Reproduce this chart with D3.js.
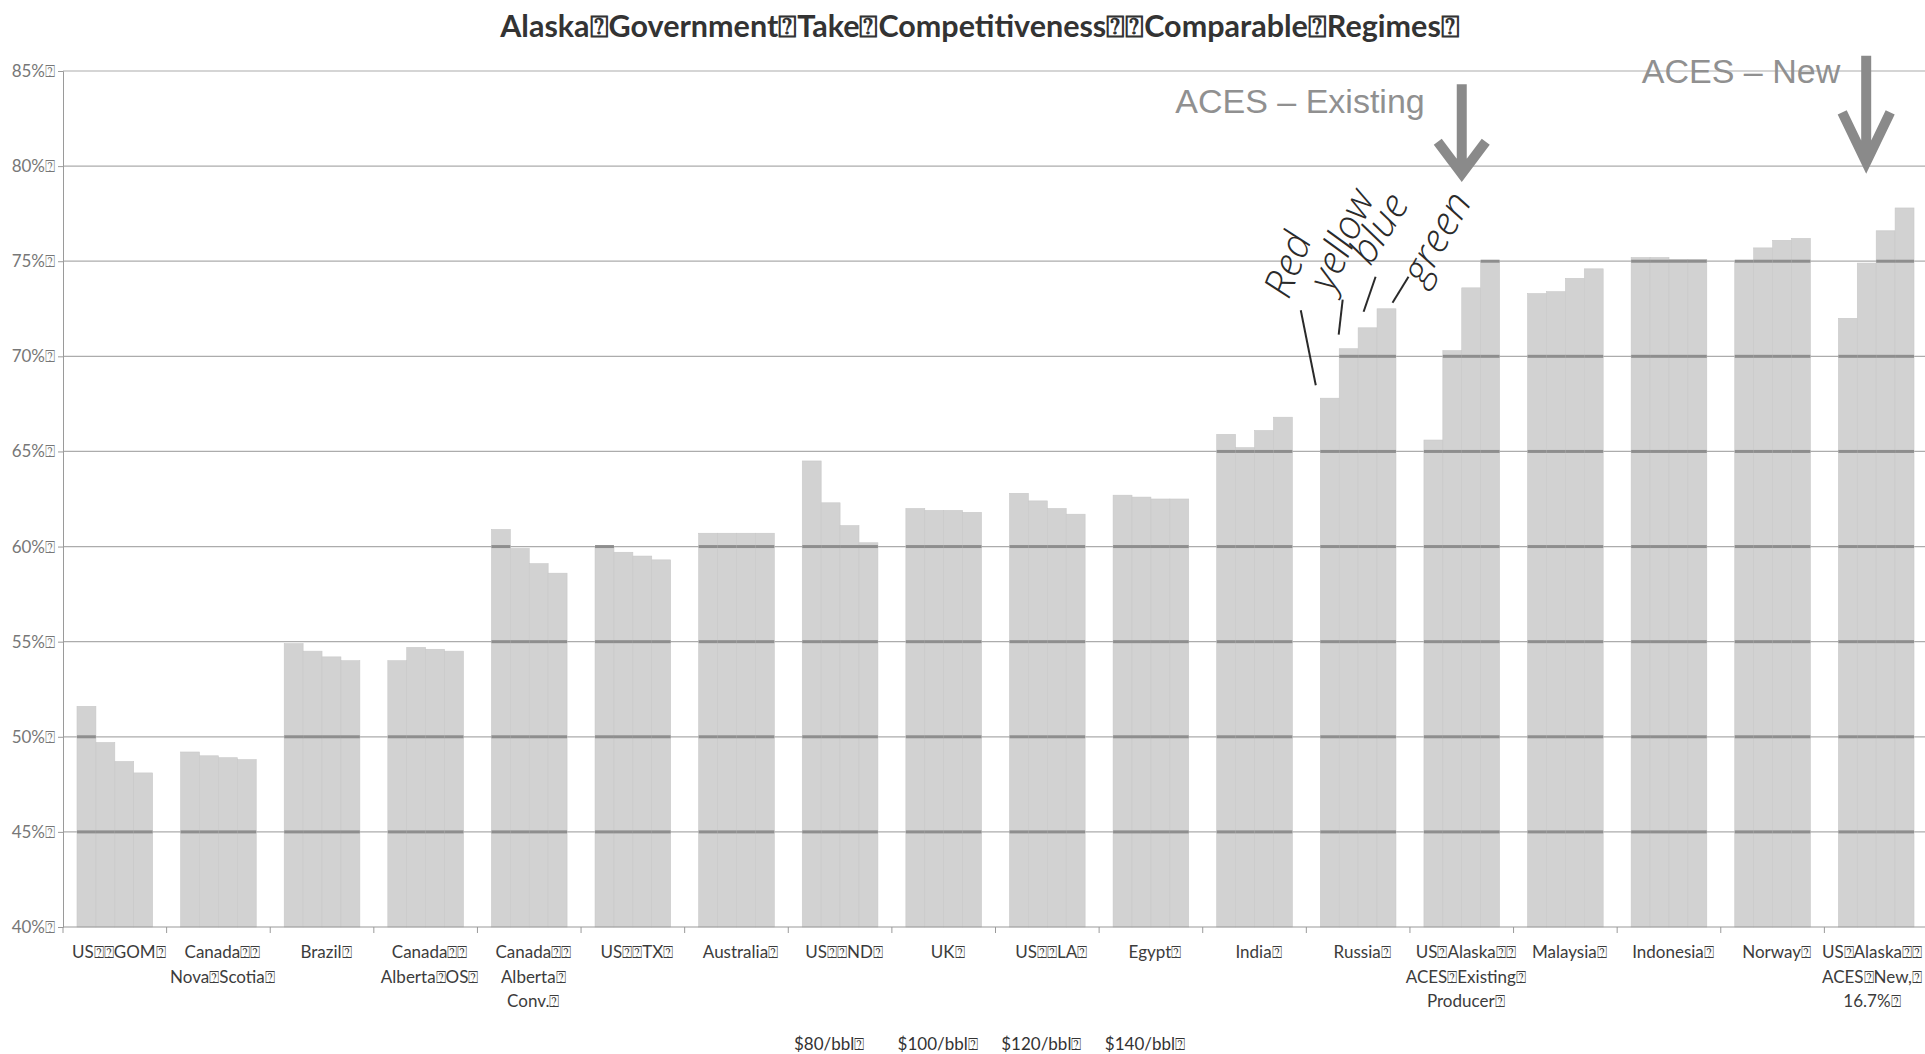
<!DOCTYPE html>
<html>
<head>
<meta charset="utf-8">
<script src="https://cdn.jsdelivr.net/npm/d3@7"></script>
<style>
	body { margin: 0; background: #fff; }
	svg text { font-family: Lato, "Open Sans", sans-serif; }
</style>
</head>
<body>
<svg id="chart" width="1925" height="1054"></svg>
<script>
// missing-glyph box, as it shows in the scanned chart
const Q = '\u2370';

const title = `Alaska${Q}Government${Q}Take${Q}Competitiveness${Q}${Q}Comparable${Q}Regimes${Q}`;

const categories = [
	[`US${Q}${Q}GOM${Q}`],
	[`Canada${Q}${Q}`, `Nova${Q}Scotia${Q}`],
	[`Brazil${Q}`],
	[`Canada${Q}${Q}`, `Alberta${Q}OS${Q}`],
	[`Canada${Q}${Q}`, `Alberta${Q}`, `Conv.${Q}`],
	[`US${Q}${Q}TX${Q}`],
	[`Australia${Q}`],
	[`US${Q}${Q}ND${Q}`],
	[`UK${Q}`],
	[`US${Q}${Q}LA${Q}`],
	[`Egypt${Q}`],
	[`India${Q}`],
	[`Russia${Q}`],
	[`US${Q}Alaska${Q}${Q}`, `ACES${Q}Existing${Q}`, `Producer${Q}`],
	[`Malaysia${Q}`],
	[`Indonesia${Q}`],
	[`Norway${Q}`],
	[`US${Q}Alaska${Q}${Q}`, `ACES${Q}New,${Q}`, `16.7%${Q}`]
];

const series = [`$80/bbl${Q}`, `$100/bbl${Q}`, `$120/bbl${Q}`, `$140/bbl${Q}`];

const take80  = [51.6, 49.2, 54.9, 54.0, 60.9, 60.0, 60.7, 64.5, 62.0, 62.8, 62.7, 65.9, 67.8, 65.6, 73.3, 75.2, 75.0, 72.0];
const take100 = [49.7, 49.0, 54.5, 54.7, 59.9, 59.7, 60.7, 62.3, 61.9, 62.4, 62.6, 65.2, 70.4, 70.3, 73.4, 75.2, 75.7, 74.9];
const take120 = [48.7, 48.9, 54.2, 54.6, 59.1, 59.5, 60.7, 61.1, 61.9, 62.0, 62.5, 66.1, 71.5, 73.6, 74.1, 75.1, 76.1, 76.6];
const take140 = [48.1, 48.8, 54.0, 54.5, 58.6, 59.3, 60.7, 60.2, 61.8, 61.7, 62.5, 66.8, 72.5, 75.0, 74.6, 75.1, 76.2, 77.8];

const yTicks = [40, 45, 50, 55, 60, 65, 70, 75, 80, 85];

// handwritten notes on the Russia bars
const notes = ['Red', 'yellow', 'blue', 'green'];

// the two pasted arrows
const arrowLabels = ['ACES \u2013 Existing', 'ACES \u2013 New'];
const arrowCats = [13, 17];
const arrowTop = [84.3, 85.8];
const arrowTip = [79.6, 80.2];

const takes = [take80, take100, take120, take140];

let svg = d3.select('#chart'),
	plotLeft = 63,
	plotRight = 1928,
	plotTop = 71,
	plotBottom = 927,
	labelSize = '17px';

let x0 = d3.scaleBand()
	.domain(d3.range(categories.length))
	.range([plotLeft, plotRight])
	.paddingInner(0.27)
	.paddingOuter(0.135);

let x1 = d3.scaleBand()
	.domain(d3.range(series.length))
	.range([0, x0.bandwidth()]);

let y = d3.scaleLinear()
	.domain([40, 85])
	.range([plotBottom, plotTop]);

let bars = [];
categories.forEach((c, ci) => {
	series.forEach((s, si) => {
		bars.push({ cat: ci, ser: si, value: takes[si][ci] });
	});
});

// title
svg.append('text')
	.attr('x', 980)
	.attr('y', 37)
	.attr('text-anchor', 'middle')
	.style('font-size', '30.5px')
	.style('font-weight', 'bold')
	.style('fill', '#333')
	.text(title);

// light gridlines
svg.append('g')
	.selectAll('line')
	.data(yTicks.filter(d => d > 40))
	.enter()
	.append('line')
	.attr('x1', plotLeft)
	.attr('x2', 1925)
	.attr('y1', d => y(d))
	.attr('y2', d => y(d))
	.attr('stroke', '#acacac')
	.attr('stroke-width', 1.2);

// bars
svg.append('g')
	.selectAll('rect')
	.data(bars)
	.enter()
	.append('rect')
	.attr('x', d => x0(d.cat) + x1(d.ser))
	.attr('y', d => y(d.value))
	.attr('width', x1.bandwidth())
	.attr('height', d => y(40) - y(d.value))
	.attr('fill', '#d2d2d2')
	.attr('stroke', '#c8c8c8')
	.attr('stroke-width', 0.6);

// gridlines look darker where they cross the bars in the scan
let segs = [];
bars.forEach(b => {
	yTicks.filter(t => t > 40 && t <= b.value).forEach(t => segs.push({ bar: b, t: t }));
});
svg.append('g')
	.selectAll('line')
	.data(segs)
	.enter()
	.append('line')
	.attr('x1', d => x0(d.bar.cat) + x1(d.bar.ser))
	.attr('x2', d => x0(d.bar.cat) + x1(d.bar.ser) + x1.bandwidth())
	.attr('y1', d => y(d.t))
	.attr('y2', d => y(d.t))
	.attr('stroke', '#8e8e8e')
	.attr('stroke-width', 3);

// y axis
let yAxis = svg.append('g')
	.attr('transform', `translate(${plotLeft},0)`)
	.call(d3.axisLeft(y).tickValues(yTicks).tickSize(5).tickPadding(3).tickFormat(d => `${d}%${Q}`));
yAxis.select('.domain').attr('stroke', '#9a9a9a');
yAxis.selectAll('.tick line').attr('stroke', '#9a9a9a');
yAxis.selectAll('.tick text')
	.style('font-size', labelSize)
	.style('font-family', 'Lato, sans-serif')
	.attr('fill', '#777');

// x axis line + ticks between the groups
svg.append('line')
	.attr('x1', plotLeft)
	.attr('x2', 1925)
	.attr('y1', y(40))
	.attr('y2', y(40))
	.attr('stroke', '#9a9a9a')
	.attr('stroke-width', 1.2);

svg.append('g')
	.selectAll('line')
	.data(d3.range(categories.length + 1))
	.enter()
	.append('line')
	.attr('x1', i => plotLeft + i * x0.step())
	.attr('x2', i => plotLeft + i * x0.step())
	.attr('y1', y(40))
	.attr('y2', y(40) + 6)
	.attr('stroke', '#9a9a9a');

// category labels
let catG = svg.append('g')
	.selectAll('text')
	.data(categories)
	.enter()
	.append('text')
	.attr('text-anchor', 'middle')
	.style('font-size', labelSize)
	.style('fill', '#3c3c3c');

catG.selectAll('tspan')
	.data(d => d)
	.enter()
	.append('tspan')
	.attr('x', 0)
	.attr('y', (d, i) => i * 24.5)
	.text(d => d);

// keep the last label inside the picture
catG.attr('transform', function(d, i) {
	let w = this.getBBox().width,
		cx = Math.min(x0(i) + x0.bandwidth() / 2 + 4, 1922 - w / 2);
	return `translate(${cx}, ${y(40) + 31})`;
});

// legend (swatches faded out in the scan)
svg.append('g')
	.selectAll('text')
	.data(series)
	.enter()
	.append('text')
	.attr('x', (d, i) => 794 + i * x0.step())
	.attr('y', 1050)
	.style('font-size', labelSize)
	.style('fill', '#333')
	.text(d => d);

// arrows
let arrows = arrowLabels.map((l, i) => ({
	label: l,
	cx: x0(arrowCats[i]) + x0.bandwidth() / 2 - (i == 1 ? 10 : 0),
	y0: y(arrowTop[i]),
	tip: y(arrowTip[i]),
	head: i == 1 ? 50 : 32
}));

let arrowG = svg.append('g');
arrowG.selectAll('path')
	.data(arrows)
	.enter()
	.append('path')
	.attr('d', d => `M${d.cx},${d.y0}V${d.tip - 4}M${d.cx - 24},${d.tip - d.head}L${d.cx},${d.tip}L${d.cx + 24},${d.tip - d.head}`)
	.attr('fill', 'none')
	.attr('stroke', '#8a8a8a')
	.attr('stroke-width', 10)
	.attr('stroke-linejoin', 'miter');

arrowG.selectAll('text')
	.data(arrows)
	.enter()
	.append('text')
	.attr('x', (d, i) => d.cx - (i == 1 ? 26 : 37))
	.attr('y', (d, i) => i == 1 ? 83 : 113)
	.attr('text-anchor', 'end')
	.style('font-family', '"Liberation Sans", Arial, sans-serif')
	.style('font-size', '34px')
	.style('fill', '#909090')
	.text(d => d.label);

// handwritten notes pointing at the Russia bars
let russia = 12,
	noteDash = [[-14, -13, -29, -88], [-10, -14, -6, -49], [-4, -16, 8, -51], [6, -6, 22, -32]],
	noteText = [[-41, -98, -69], [-16, -56, -66], [3, -61, -58], [37, -22, -60]];

let noteG = svg.append('g')
	.selectAll('g')
	.data(notes)
	.enter()
	.append('g')
	.attr('transform', (d, i) => `translate(${x0(russia) + x1(i) + x1.bandwidth() / 2}, ${y(takes[i][russia])})`);

noteG.append('line')
	.attr('x1', (d, i) => noteDash[i][0])
	.attr('y1', (d, i) => noteDash[i][1])
	.attr('x2', (d, i) => noteDash[i][2])
	.attr('y2', (d, i) => noteDash[i][3])
	.attr('stroke', '#2a2a2a')
	.attr('stroke-width', 2);

noteG.append('text')
	.attr('transform', (d, i) => `translate(${noteText[i][0]}, ${noteText[i][1]}) rotate(${noteText[i][2]})`)
	.style('font-family', '"Open Sans", sans-serif')
	.style('font-weight', 300)
	.style('font-style', 'italic')
	.style('font-size', '40px')
	.style('fill', '#2a2a2a')
	.text(d => d);
</script>
</body>
</html>
